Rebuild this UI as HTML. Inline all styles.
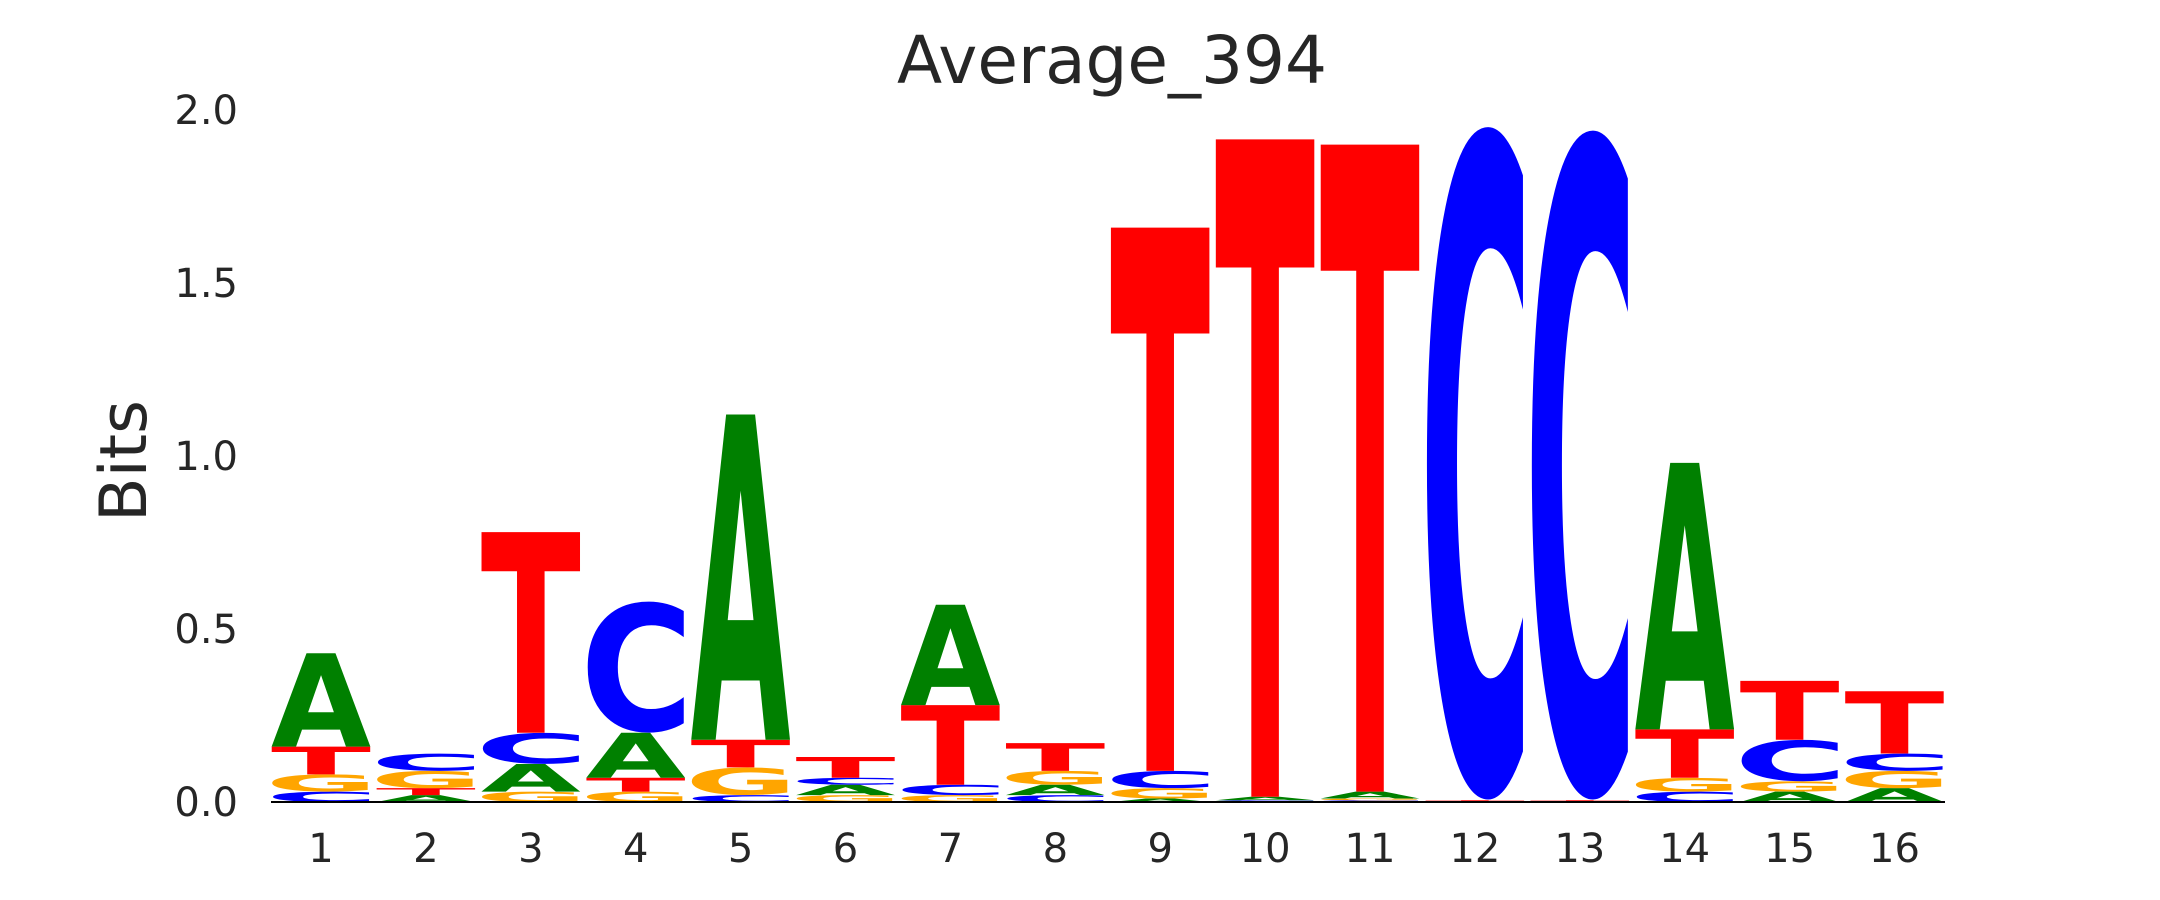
<!DOCTYPE html>
<html><head><meta charset="utf-8"><style>
html,body{margin:0;padding:0;background:#fff;overflow:hidden;width:2160px;height:900px;}
svg{display:block;font-family:"DejaVu Sans","Liberation Sans",sans-serif;}
</style></head><body>
<svg id="chart" width="2160" height="900" viewBox="0 0 2160 900" xmlns="http://www.w3.org/2000/svg">
<rect width="2160" height="900" fill="#fff"/>
<text x="1112" y="83" font-size="66" fill="#262626" text-anchor="middle">Average_394</text>
<text transform="translate(146,461) rotate(-90)" font-size="65" fill="#262626" text-anchor="middle">Bits</text>
<g id="yticks"></g>
<g id="xticks"></g>
<g id="letters"></g>
<line x1="271" y1="802" x2="1945" y2="802" stroke="#000" stroke-width="2"/>
</svg>
<script>
const positions = [1,2,3,4,5,6,7,8,9,10,11,12,13,14,15,16];
const yTickValues = [0, 0.5, 1.0, 1.5, 2.0];
const yTickLabels = ["0.0","0.5","1.0","1.5","2.0"];
// stacks bottom->top: [letter, bits]
const stack1 = [["C",0.03],["G",0.05],["T",0.08],["A",0.27]];
const stack2 = [["A",0.02],["T",0.02],["G",0.05],["C",0.05]];
const stack3 = [["G",0.03],["A",0.08],["C",0.09],["T",0.58]];
const stack4 = [["G",0.03],["T",0.04],["A",0.13],["C",0.38]];
const stack5 = [["C",0.02],["G",0.08],["T",0.08],["A",0.94]];
const stack6 = [["G",0.02],["A",0.03],["C",0.02],["T",0.06]];
const stack7 = [["G",0.02],["C",0.03],["T",0.23],["A",0.29]];
const stack8 = [["C",0.02],["A",0.03],["G",0.04],["T",0.08]];
const stack9 = [["A",0.01],["G",0.03],["C",0.05],["T",1.57]];
const stack10 = [["C",0.005],["A",0.01],["T",1.9]];
const stack11 = [["C",0.005],["G",0.005],["A",0.02],["T",1.87]];
const stack12 = [["T",0.005],["C",1.95]];
const stack13 = [["T",0.005],["C",1.94]];
const stack14 = [["C",0.03],["G",0.04],["T",0.14],["A",0.77]];
const stack15 = [["A",0.03],["G",0.03],["C",0.12],["T",0.17]];
const stack16 = [["A",0.04],["G",0.05],["C",0.05],["T",0.18]];
const stacks = [stack1,stack2,stack3,stack4,stack5,stack6,stack7,stack8,stack9,stack10,stack11,stack12,stack13,stack14,stack15,stack16];
const colors = {A:"#008000",C:"#0000ff",G:"#ffa500",T:"#ff0000"};

const NS = "http://www.w3.org/2000/svg";
const y0 = 802, pxPerBit = 346;
function yScale(v){ return y0 - v*pxPerBit; }
function xScale(p){ return 321 + (p-1)*104.9; }
const colW = 100;

const yt = document.getElementById('yticks');
yTickValues.forEach((v,i)=>{
  const t = document.createElementNS(NS,'text');
  
  
  t.setAttribute('x', 238);
  t.setAttribute('y', yScale(v)+14);
  t.setAttribute('font-size', 40);
  t.setAttribute('fill', '#262626');
  t.setAttribute('text-anchor','end');
  t.textContent = yTickLabels[i];
  yt.appendChild(t);
});
const xt = document.getElementById('xticks');
positions.forEach(p=>{
  const t = document.createElementNS(NS,'text');
  
  
  t.setAttribute('x', xScale(p));
  t.setAttribute('y', 862);
  t.setAttribute('font-size', 40);
  t.setAttribute('fill', '#262626');
  t.setAttribute('text-anchor','middle');
  t.textContent = String(p);
  xt.appendChild(t);
});

const lg = document.getElementById('letters');
function drawLetter(ch, x0, yb, w, h){
  const t = document.createElementNS(NS,'text');
  
  
  t.setAttribute('font-size', 100);
  t.setAttribute('font-weight', 'bold');
  t.setAttribute('fill', colors[ch]);
  t.setAttribute('x', 0);
  t.setAttribute('y', 0);
  t.textContent = ch;
  lg.appendChild(t);
  const round = (ch==="C"||ch==="G");
  const top = round ? -74.4 : -72.9;
  const bot = round ? 1.5 : 0;
  t.setAttribute('textLength', 100);
  t.setAttribute('lengthAdjust','spacingAndGlyphs');
  const inkL = {A:0,C:5,G:5,T:0}[ch], inkR = {A:100,C:93,G:94,T:100}[ch];
  const sx = w/(inkR-inkL);
  const sy = h/(bot-top);
  t.setAttribute('transform', `translate(${x0 - inkL*sx},${yb - bot*sy}) scale(${sx},${sy})`);
}
positions.forEach((p,i)=>{
  let cum = 0;
  stacks[i].forEach(([ch,v])=>{
    const yb = yScale(cum), yt2 = yScale(cum+v);
    drawLetter(ch, xScale(p)-colW/2, yb, colW, yb-yt2);
    cum += v;
  });
});
</script>
</body></html>
